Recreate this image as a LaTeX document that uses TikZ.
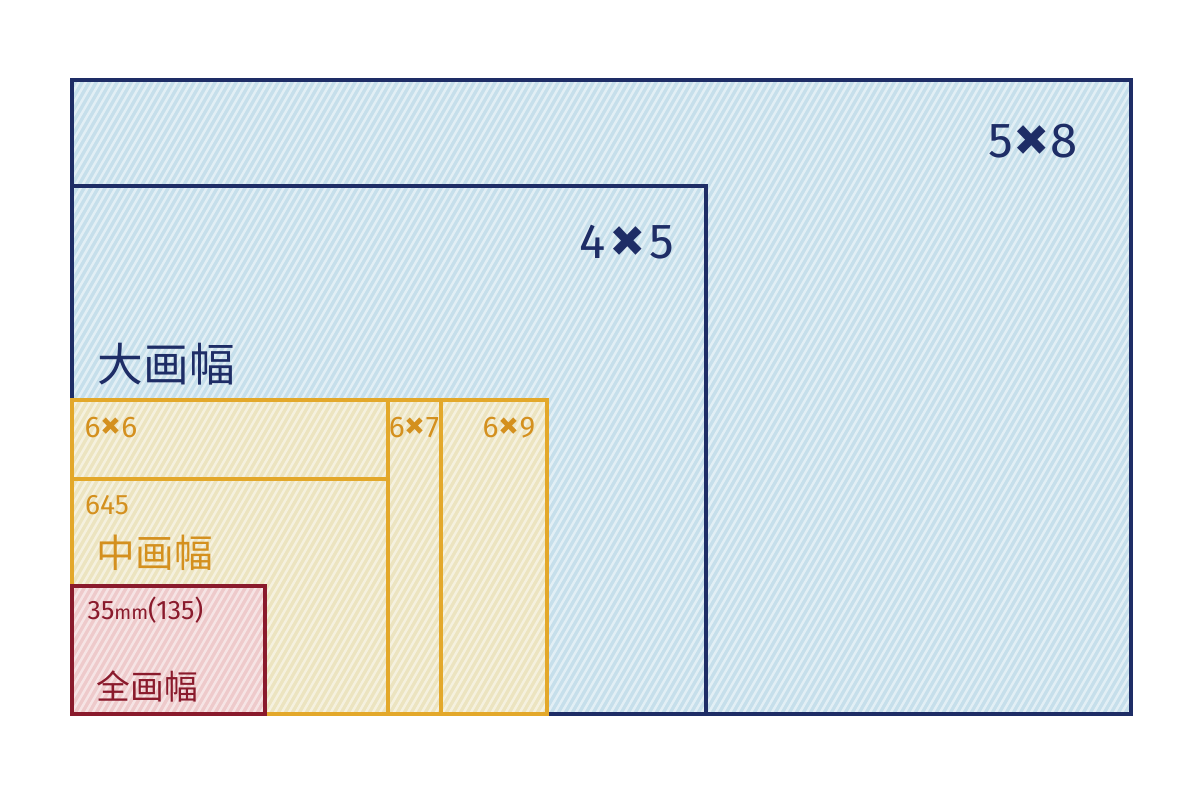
\documentclass[tikz,border=0pt]{standalone}
\usepackage{fontspec}
\setmainfont{Fira Sans}
\newfontfamily\cjk{Noto Sans CJK SC}
\definecolor{navy}{HTML}{1E2D66}
\definecolor{bluefill}{HTML}{C6DFEB}
\definecolor{goldline}{HTML}{E3A82A}
\definecolor{goldfill}{HTML}{ECE4C0}
\definecolor{goldtext}{HTML}{D4901E}
\definecolor{wine}{HTML}{8A1A2C}
\definecolor{rosefill}{HTML}{EECACB}
\tikzset{
  navybox/.style={draw=navy, line width=1pt},
  goldbox/.style={draw=goldline, line width=1.1pt},
  winebox/.style={draw=wine, line width=1.1pt},
  bigfmt/.style={text=navy, font=\fontsize{14}{16}\selectfont, inner sep=0pt},
  smallfmt/.style={text=goldtext, font=\fontsize{8.5}{10}\selectfont, inner sep=0pt},
  hatch/.style={white, opacity=0.5, line width=0.7pt}
}
\newcommand{\bigx}{\raisebox{-0.15ex}{\fontsize{20}{20}\selectfont\bfseries ×}}
\newcommand{\midx}{\raisebox{-0.1ex}{\fontsize{11.5}{12}\selectfont\bfseries ×}}
\begin{document}
\begin{tikzpicture}[x=0.1mm, y=-0.1mm]
\useasboundingbox (0,0) rectangle (1200,799);
% fills
\fill[bluefill] (72,80) rectangle (1131,714);
\fill[goldfill] (72,400) rectangle (547,714);
\fill[rosefill] (72,586) rectangle (265,714);
% hatching
\begin{scope}
\clip (72,80) rectangle (1131,714);
\foreach \a in {-300,-293,...,1135} {
  \draw[hatch] (\a,714) -- ({\a+366},80);
}
\end{scope}
% outlines
\draw[navybox] (72,80) rectangle (1131,714);
\draw[navybox] (72,186) rectangle (706,714);
\draw[goldbox] (72,400) rectangle (388,479);
\draw[goldbox] (72,479) rectangle (388,714);
\draw[goldbox] (388,400) rectangle (441,714);
\draw[goldbox] (441,400) rectangle (547,714);
\draw[winebox] (72,586) rectangle (265,714);
% labels
\node[bigfmt] (l58) at (1033,143) {5\bigx8};
\node[bigfmt] (l45) at (627,244) {4\kern1pt\bigx\kern1pt5};
\node[text=navy, font=\cjk\fontsize{13}{15}\selectfont, anchor=west, inner sep=0pt] (lbig) at (97,364) {大画幅};
\node[smallfmt] (l66) at (111,428) {6\midx6};
\node[smallfmt] (l67) at (414,428) {6\midx7};
\node[smallfmt] (l69) at (509,428) {6\midx9};
\node[smallfmt, font=\fontsize{8}{9}\selectfont] (l645) at (107,505) {645};
\node[text=goldtext, font=\cjk\fontsize{11}{13}\selectfont, anchor=west, inner sep=0pt] (lmid) at (96,553) {中画幅};
\node[text=wine, font=\fontsize{7.6}{10}\selectfont, anchor=west, inner sep=0pt] (l35) at (87,610) {35{\fontsize{5.6}{8}\selectfont mm}(135)};
\node[text=wine, font=\cjk\fontsize{9.6}{12}\selectfont, anchor=west, inner sep=0pt] (lfull) at (96,686) {全画幅};
\end{tikzpicture}
\end{document}
